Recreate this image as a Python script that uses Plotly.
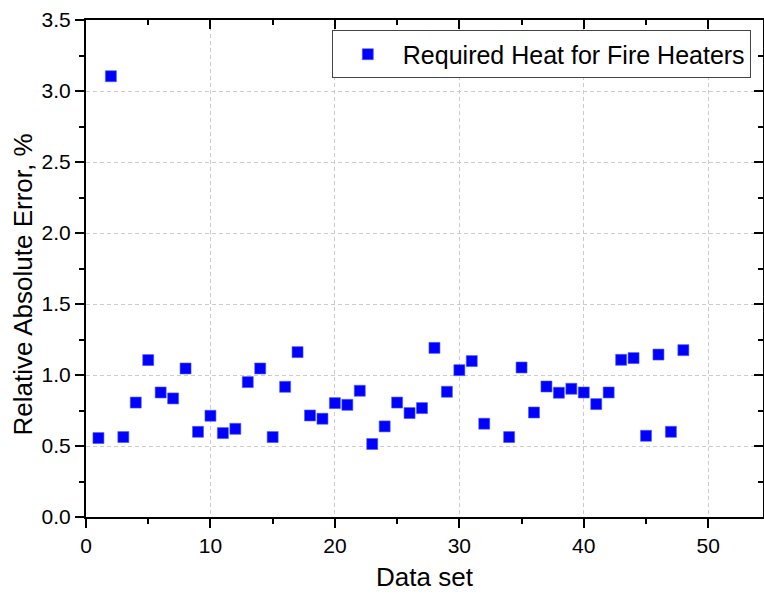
import plotly.graph_objects as go

data_set = list(range(1, 33)) + list(range(34, 49))
rel_abs_error = [
    0.556, 3.104, 0.563, 0.806, 1.105, 0.877, 0.835, 1.046, 0.600, 0.713,
    0.591, 0.621, 0.950, 1.046, 0.563, 0.917, 1.161, 0.715, 0.692, 0.802,
    0.790, 0.889, 0.514, 0.638, 0.806, 0.732, 0.767, 1.191, 0.882, 1.034,
    1.098, 0.657,
    0.563, 1.053, 0.736, 0.919, 0.875, 0.903, 0.877, 0.795, 0.877, 1.107,
    1.119, 0.572, 1.144, 0.600, 1.175,
]
series_name = "Required Heat for Fire Heaters"
x_title = "Data set"
y_title = "Relative Absolute Error, %"
x_ticks = [0, 10, 20, 30, 40, 50]
y_ticks = [0.0, 0.5, 1.0, 1.5, 2.0, 2.5, 3.0, 3.5]

XR = [0, 54.4]
YR = [0, 3.5]
FONT = "Liberation Sans, Arial, sans-serif"

fig = go.Figure()
fig.add_trace(go.Scatter(
    x=data_set, y=rel_abs_error, mode="markers", name=series_name,
    marker=dict(symbol="square", size=11, color="#0000ff",
                line=dict(width=0.6, color="#4a5cff")),
))
# invisible trace for mirrored axes (top/right, ticks inside)
fig.add_trace(go.Scatter(x=[None], y=[None], xaxis="x2", yaxis="y2",
                         showlegend=False, hoverinfo="skip"))

axis_common = dict(showline=True, linecolor="black", linewidth=2,
                   ticks="outside", tickcolor="black", tickwidth=2, ticklen=9,
                   zeroline=False, tickfont=dict(size=21, color="black", family=FONT))

fig.update_layout(
    width=764, height=594,
    margin=dict(l=86, r=1, t=20, b=77),
    paper_bgcolor="white", plot_bgcolor="white",
    font=dict(family=FONT, color="black"),
    showlegend=True,
    legend=dict(x=0.982, y=0.9306, xanchor="right", yanchor="middle",
                bordercolor="#444", borderwidth=1, bgcolor="white",
                font=dict(size=25, family=FONT, color="black"),
                itemwidth=60),
    xaxis=dict(range=XR, tickvals=x_ticks, **axis_common,
               showgrid=True, gridcolor="#cccccc", griddash="4px,3px", gridwidth=1,
               minor=dict(dtick=5, tick0=0, ticks="outside", ticklen=5, tickwidth=2,
                          tickcolor="black", showgrid=False),
               title=dict(text=x_title, font=dict(size=26, family=FONT), standoff=12)),
    yaxis=dict(range=YR, tickvals=y_ticks, tickformat=".1f", **axis_common,
               showgrid=True, gridcolor="#cccccc", griddash="4px,3px", gridwidth=1,
               minor=dict(dtick=0.25, tick0=0, ticks="outside", ticklen=5, tickwidth=2,
                          tickcolor="black", showgrid=False)),
    xaxis2=dict(range=XR, overlaying="x", side="top", anchor="y2", tickvals=x_ticks,
                showline=True, linecolor="black", linewidth=2, ticks="inside",
                ticklen=9, tickwidth=2, tickcolor="black", showticklabels=False,
                showgrid=False, zeroline=False,
                minor=dict(dtick=5, tick0=0, ticks="inside", ticklen=5, tickwidth=2,
                           tickcolor="black")),
    yaxis2=dict(range=YR, overlaying="y", side="right", anchor="x2", tickvals=y_ticks,
                showline=True, linecolor="black", linewidth=2, ticks="inside",
                ticklen=9, tickwidth=2, tickcolor="black", showticklabels=False,
                showgrid=False, zeroline=False,
                minor=dict(dtick=0.25, tick0=0, ticks="inside", ticklen=5, tickwidth=2,
                           tickcolor="black")),
    annotations=[dict(text=y_title, textangle=-90, xref="paper", yref="paper",
                      x=-0.093, y=0.468, xanchor="center", yanchor="middle",
                      showarrow=False, font=dict(size=26, family=FONT, color="black"))],
)

fig.write_html("out.html")
